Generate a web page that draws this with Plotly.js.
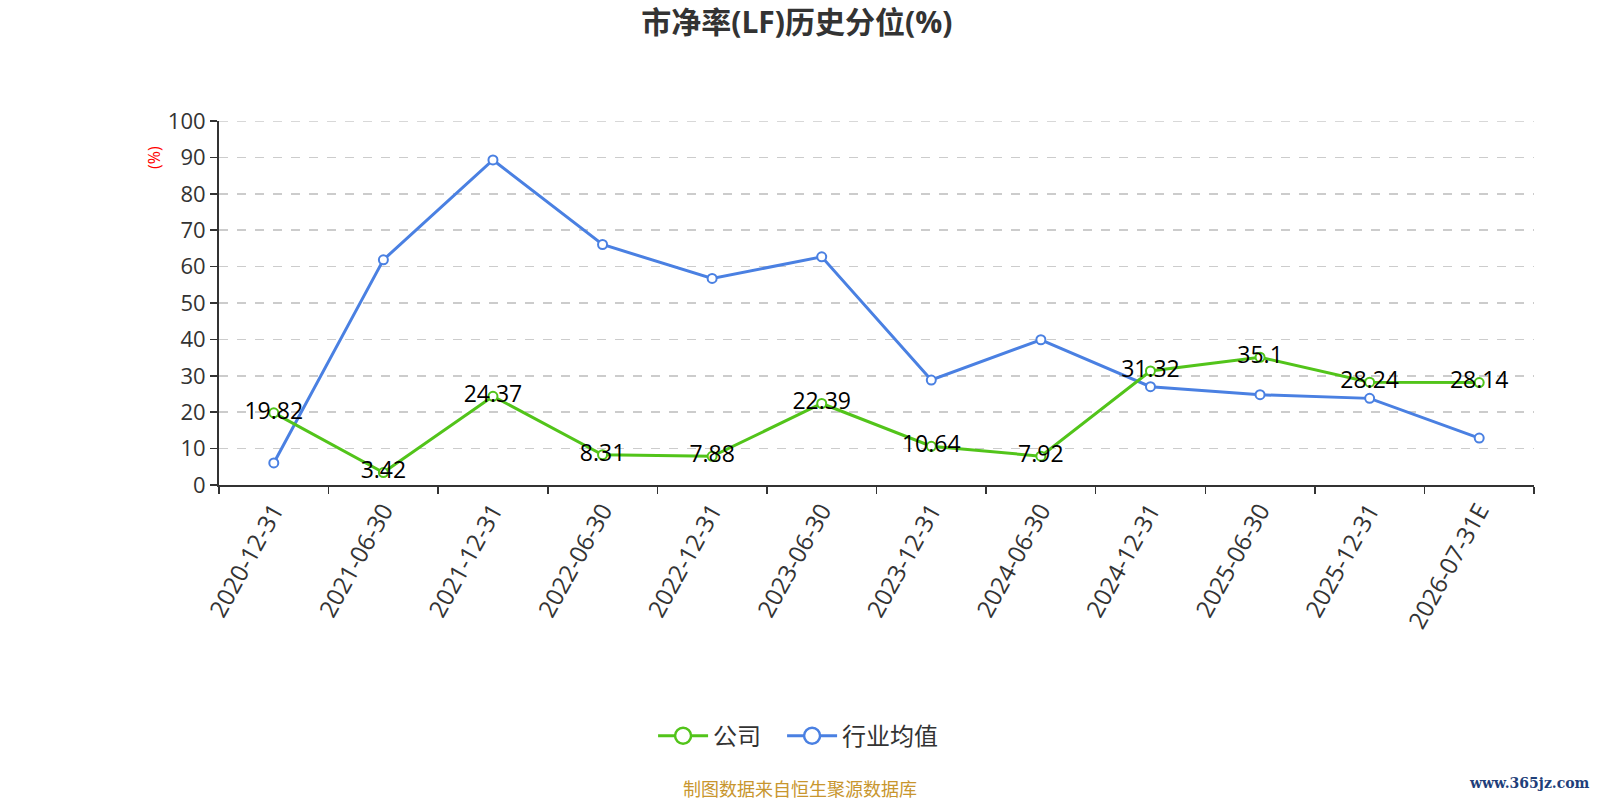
<!DOCTYPE html>
<html>
<head>
<meta charset="utf-8">
<script src="https://cdn.plot.ly/plotly-3.0.1.min.js"></script>
<style>html,body{margin:0;padding:0;background:#fff;}#chart{width:1600px;height:800px;}</style>
</head>
<body>
<div id="chart"></div>
<script>
const categories = ["2020-12-31","2021-06-30","2021-12-31","2022-06-30","2022-12-31","2023-06-30","2023-12-31","2024-06-30","2024-12-31","2025-06-30","2025-12-31","2026-07-31E"];
const companyValues = [19.82, 3.42, 24.37, 8.31, 7.88, 22.39, 10.64, 7.92, 31.32, 35.1, 28.24, 28.14];
const industryValues = [6.06, 61.86, 89.3, 66.07, 56.74, 62.68, 28.84, 39.9, 27.0, 24.8, 23.8, 12.9];
const seriesNames = ["公司", "行业均值"];
const yTicks = [0,10,20,30,40,50,60,70,80,90,100];

const FONT = '"Open Sans", "Noto Sans CJK SC", sans-serif';
const GREEN = '#52C41A';
const BLUE = '#4A80E2';

const traceIndustry = {
  x: categories, y: industryValues, name: seriesNames[1], type: 'scatter', mode: 'lines+markers',
  line: {color: BLUE, width: 3},
  marker: {symbol: 'circle', size: 9, color: '#ffffff', line: {color: BLUE, width: 2}},
  showlegend: false, hoverinfo: 'skip'
};
const traceCompany = {
  x: categories, y: companyValues, name: seriesNames[0], type: 'scatter', mode: 'lines+markers+text',
  text: companyValues.map(v => String(v)), textposition: 'middle center',
  textfont: {family: FONT, size: 23, color: '#000000'},
  line: {color: GREEN, width: 3},
  marker: {symbol: 'circle', size: 9, color: '#ffffff', line: {color: GREEN, width: 2}},
  showlegend: false, hoverinfo: 'skip'
};
// legend-only entries (no data points) so the legend symbols can be larger
const legendCompany = {
  x: [null], y: [null], name: seriesNames[0], type: 'scatter', mode: 'lines+markers',
  line: {color: GREEN, width: 3},
  marker: {symbol: 'circle', size: 17, color: '#ffffff', line: {color: GREEN, width: 2.5}},
  legend: 'legend', hoverinfo: 'skip'
};
const legendIndustry = {
  x: [null], y: [null], name: seriesNames[1], type: 'scatter', mode: 'lines+markers',
  line: {color: BLUE, width: 3},
  marker: {symbol: 'circle', size: 17, color: '#ffffff', line: {color: BLUE, width: 2.5}},
  legend: 'legend2', hoverinfo: 'skip'
};

const legendStyle = {orientation: 'h', yanchor: 'middle', y: -0.69, xanchor: 'left', font: {family: FONT, size: 24, color: '#333333'}, itemwidth: 50, bgcolor: 'rgba(0,0,0,0)'};

const layout = {
  width: 1600, height: 800,
  paper_bgcolor: '#ffffff', plot_bgcolor: '#ffffff',
  margin: {l: 219, r: 66, t: 121, b: 315},
  font: {family: FONT, color: '#333333'},
  title: {text: '<b>市净率(LF)历史分位(%)</b>', font: {family: FONT, size: 30, color: '#333333'}, x: 0.498, xanchor: 'center', y: 0.972, yanchor: 'middle'},
  showlegend: true,
  legend: Object.assign({}, legendStyle, {x: 0.3301}),
  legend2: Object.assign({}, legendStyle, {x: 0.4282}),
  xaxis: {
    type: 'category', tickmode: 'array', tickvals: categories, ticktext: categories,
    tickangle: -61, tickson: 'boundaries', ticks: 'outside', ticklen: 7, tickcolor: '#333333', tickwidth: 1.5,
    showline: true, linecolor: '#333333', linewidth: 2, showgrid: false, zeroline: false,
    tickfont: {family: FONT, size: 24, color: '#333333'}, range: [-0.5, 11.5], fixedrange: true
  },
  yaxis: {
    range: [0, 100], tickmode: 'array', tickvals: yTicks, ticktext: yTicks.map(String),
    ticks: 'outside', ticklen: 7, tickcolor: '#333333', tickwidth: 1.5,
    showline: true, linecolor: '#333333', linewidth: 2,
    showgrid: true, gridcolor: '#cccccc', griddash: 'dash', gridwidth: 1.5, zeroline: false,
    tickfont: {family: FONT, size: 22, color: '#333333'}, fixedrange: true
  },
  shapes: [
    {type: 'line', xref: 'paper', yref: 'y', x0: 0, x1: 1, y0: yTicks[yTicks.length-1], y1: yTicks[yTicks.length-1], line: {color: '#cccccc', width: 1.5, dash: 'dash'}, layer: 'below'}
  ],
  annotations: [
    {text: '(%)', xref: 'paper', yref: 'paper', x: -0.049, y: 0.9, xanchor: 'center', yanchor: 'middle', textangle: -90, showarrow: false, font: {family: FONT, size: 16, color: '#ff0000'}},
    {text: '制图数据来自恒生聚源数据库', xref: 'paper', yref: 'paper', x: 0.4418, y: -0.836, xanchor: 'center', yanchor: 'middle', showarrow: false, font: {family: FONT, size: 18, color: '#C8962E'}},
    {text: '<b>www.365jz.com</b>', xref: 'paper', yref: 'paper', x: 1.044, y: -0.819, xanchor: 'right', yanchor: 'middle', showarrow: false, font: {family: '"DejaVu Serif", serif', size: 14, color: '#1F3F7A'}}
  ]
};

Plotly.newPlot('chart', [traceIndustry, traceCompany, legendCompany, legendIndustry], layout, {displayModeBar: false, staticPlot: true});
</script>
</body>
</html>
